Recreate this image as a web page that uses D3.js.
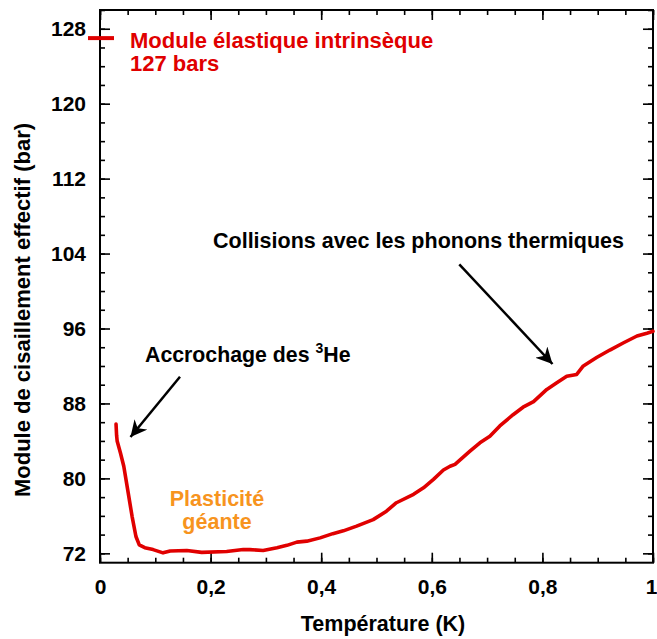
<!DOCTYPE html>
<html><head><meta charset="utf-8">
<script src="https://cdn.jsdelivr.net/npm/d3@7"></script>
<style>
body{margin:0;background:#fff;}
text{font-family:"Liberation Sans",Arial,sans-serif;font-weight:bold;}
</style></head>
<body>
<svg id="c" width="657" height="639"></svg>
<script>
// Temperature (K)
const temps = [0.029,0.030,0.031,0.037,0.043,0.051,0.058,0.065,0.071,0.081,0.096,0.114,0.127,0.157,0.184,0.229,0.259,0.271,0.295,0.320,0.338,0.356,0.374,0.398,0.421,0.440,0.464,0.494,0.518,0.536,0.567,0.585,0.603,0.621,0.633,0.642,0.669,0.687,0.705,0.723,0.747,0.765,0.784,0.808,0.826,0.844,0.862,0.874,0.898,0.922,0.946,0.971,0.989,1.0];
// Effective shear modulus (bar)
const modulus = [85.8,84.6,84.0,82.7,81.3,78.45,75.95,73.8,72.9,72.6,72.4,72.05,72.25,72.3,72.1,72.2,72.4,72.4,72.3,72.6,72.85,73.2,73.3,73.65,74.1,74.4,74.9,75.6,76.5,77.4,78.3,79.0,79.9,80.9,81.3,81.5,82.9,83.8,84.5,85.6,86.8,87.6,88.2,89.5,90.2,90.9,91.1,92.0,92.9,93.7,94.45,95.2,95.5,95.7];
const intrinsic = 127;
const xTicks = [0,0.2,0.4,0.6,0.8,1];
const xTickLabels = ["0","0,2","0,4","0,6","0,8","1"];
const yTicks = [72,80,88,96,104,112,120,128];
const yTickLabels = ["72","80","88","96","104","112","120","128"];
const xMinor = d3.range(0,1.0001,0.05);
const yMinor = d3.range(72,130.001,2);

const svg = d3.select("#c");
const L=100,R=653,T=10,B=562.7;
const x = d3.scaleLinear().domain([0,1]).range([L,R]);
const y = d3.scaleLinear().domain([71,130]).range([B,T]);
const red="#e00000", orange="#f7941e";

function style(g){g.select(".domain").remove();g.selectAll("line").attr("stroke","#000").attr("stroke-width",1.6);g.selectAll("text").attr("font-size",21).attr("fill","#000").attr("font-family","'Liberation Sans',Arial,sans-serif").attr("font-weight","bold");}
// minor ticks
svg.append("g").attr("transform",`translate(0,${B})`).call(d3.axisBottom(x).tickValues(xMinor).tickSize(-5).tickFormat("")).call(style);
svg.append("g").attr("transform",`translate(0,${T})`).call(d3.axisTop(x).tickValues(xMinor).tickSize(-5).tickFormat("")).call(style);
svg.append("g").attr("transform",`translate(${L},0)`).call(d3.axisLeft(y).tickValues(yMinor).tickSize(-5).tickFormat("")).call(style);
svg.append("g").attr("transform",`translate(${R},0)`).call(d3.axisRight(y).tickValues(yMinor).tickSize(-5).tickFormat("")).call(style);
// major ticks
const gx = svg.append("g").attr("transform",`translate(0,${B})`).call(d3.axisBottom(x).tickValues(xTicks).tickSize(-10).tickPadding(16).tickFormat((d,i)=>xTickLabels[i])).call(style);
gx.selectAll("text").filter(d=>d===1).attr("dx",-2);
svg.append("g").attr("transform",`translate(0,${T})`).call(d3.axisTop(x).tickValues(xTicks).tickSize(-10).tickFormat("")).call(style);
svg.append("g").attr("transform",`translate(${L},0)`).call(d3.axisLeft(y).tickValues(yTicks).tickSize(-10).tickPadding(14).tickFormat((d,i)=>yTickLabels[i])).call(style);
svg.append("g").attr("transform",`translate(${R},0)`).call(d3.axisRight(y).tickValues(yTicks).tickSize(-10).tickFormat("")).call(style);
// frame
svg.append("rect").attr("x",L).attr("y",T).attr("width",R-L).attr("height",B-T).attr("fill","none").attr("stroke","#000").attr("stroke-width",2);

// data line
const pts = temps.map((t,i)=>[t,modulus[i]]);
svg.append("path").datum(pts).attr("fill","none").attr("stroke",red).attr("stroke-width",3.6).attr("stroke-linejoin","round").attr("stroke-linecap","round")
  .attr("d",d3.line().x(d=>x(d[0])).y(d=>y(d[1])));

// intrinsic marker
svg.append("line").attr("x1",L-12).attr("x2",L+14).attr("y1",y(intrinsic)).attr("y2",y(intrinsic)).attr("stroke",red).attr("stroke-width",4);
const t1 = svg.append("text").attr("x",130).attr("y",47.5).attr("fill",red).attr("font-size",22);
t1.append("tspan").attr("x",130).text("Module élastique intrinsèque");
t1.append("tspan").attr("x",130).attr("dy",23.5).text(intrinsic+" bars");

// axis titles
svg.append("text").attr("x",383).attr("y",631).attr("text-anchor","middle").attr("font-size",21.5).text("Température (K)");
svg.append("text").attr("transform","translate(30,310) rotate(-90)").attr("text-anchor","middle").attr("font-size",22).text("Module de cisaillement effectif (bar)");

// annotations
const a1 = svg.append("text").attr("x",145).attr("y",362.3).attr("font-size",21.3);
a1.append("tspan").text("Accrochage des ");
a1.append("tspan").attr("font-size",14).attr("dy",-9).text("3");
a1.append("tspan").attr("dy",9).text("He");
svg.append("text").attr("x",213).attr("y",248.3).attr("font-size",21.5).text("Collisions avec les phonons thermiques");
const p = svg.append("text").attr("x",217).attr("y",506).attr("text-anchor","middle").attr("fill",orange).attr("font-size",21.5);
p.append("tspan").attr("x",217).text("Plasticité");
p.append("tspan").attr("x",217).attr("dy",22.5).text("géante");

// arrows
svg.append("defs").append("marker").attr("id","ah").attr("viewBox","0 0 10 10").attr("refX",10).attr("refY",5)
  .attr("markerWidth",6.5).attr("markerHeight",6.5).attr("markerUnits","strokeWidth").attr("orient","auto")
  .append("path").attr("d","M0,0 L10,5 L0,10 L3,5 Z").attr("fill","#000");
function arrow(x1,y1,x2,y2){svg.append("line").attr("x1",x1).attr("y1",y1).attr("x2",x2).attr("y2",y2).attr("stroke","#000").attr("stroke-width",2.5).attr("marker-end","url(#ah)");}
arrow(180,376.7,130.5,437);
arrow(459.3,264.3,552.5,364);
</script>
</body></html>
